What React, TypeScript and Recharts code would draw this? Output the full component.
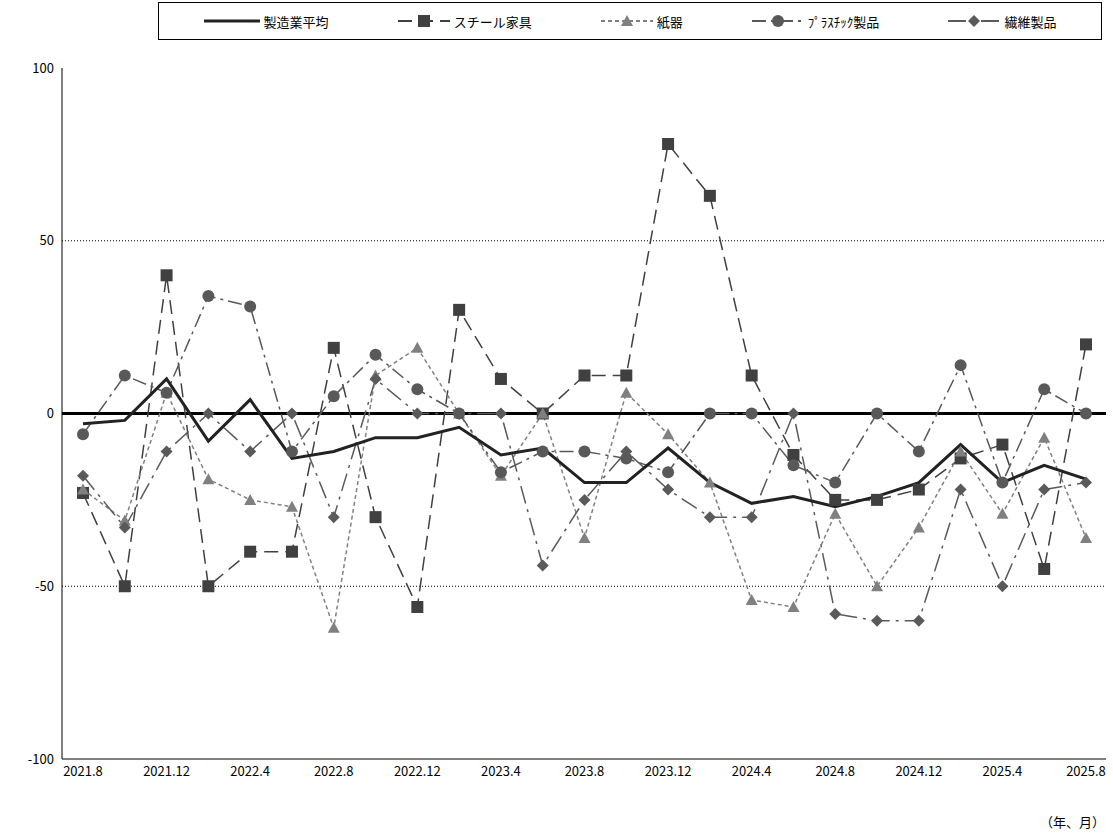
import React from 'react';
import { LineChart, Line, XAxis, YAxis, CartesianGrid, ReferenceLine } from 'recharts';

const months = ['2021.8','2021.10','2021.12','2022.2','2022.4','2022.6','2022.8','2022.10','2022.12','2023.2','2023.4','2023.6','2023.8','2023.10','2023.12','2024.2','2024.4','2024.6','2024.8','2024.10','2024.12','2025.2','2025.4','2025.6','2025.8'];
const average = [-3,-2,10,-8,4,-13,-11,-7,-7,-4,-12,-10,-20,-20,-10,-20,-26,-24,-27,-24,-20,-9,-20,-15,-19];
const steel = [-23,-50,40,-50,-40,-40,19,-30,-56,30,10,0,11,11,78,63,11,-12,-25,-25,-22,-13,-9,-45,20];
const paper = [-22,-31,6,-19,-25,-27,-62,11,19,0,-18,0,-36,6,-6,-20,-54,-56,-29,-50,-33,-11,-29,-7,-36];
const plastic = [-6,11,6,34,31,-11,5,17,7,0,-17,-11,-11,-13,-17,0,0,-15,-20,0,-11,14,-20,7,0];
const textile = [-18,-33,-11,0,-11,0,-30,10,0,0,0,-44,-25,-11,-22,-30,-30,0,-58,-60,-60,-22,-50,-22,-20];
const yTicks = [-100, -50, 0, 50, 100];

const data = months.map((m, i) => ({ m, average: average[i], steel: steel[i], paper: paper[i], plastic: plastic[i], textile: textile[i] }));

const Marker = ({ cx, cy, shape, color }: any) => {
  if (cx == null || cy == null) return null;
  if (shape === 'square') return <rect x={cx - 6} y={cy - 6} width={12} height={12} fill={color} />;
  if (shape === 'triangle') return <polygon points={`${cx},${cy - 6} ${cx + 6},${cy + 5} ${cx - 6},${cy + 5}`} fill={color} />;
  if (shape === 'circle') return <circle cx={cx} cy={cy} r={6} fill={color} />;
  return <polygon points={`${cx},${cy - 6} ${cx + 6},${cy} ${cx},${cy + 6} ${cx - 6},${cy}`} fill={color} />;
};

const series = [
  { key: 'steel', name: 'スチール家具', color: '#404040', dash: '14 7', shape: 'square' },
  { key: 'paper', name: '紙器', color: '#808080', dash: '4 3', shape: 'triangle' },
  { key: 'plastic', name: 'ﾌﾟﾗｽﾁｯｸ製品', color: '#595959', dash: '14 5 3 5', shape: 'circle' },
  { key: 'textile', name: '繊維製品', color: '#5a5a5a', dash: '18 6 3 6', shape: 'diamond' },
];

const LegendItem = ({ s }: any) => (
  <div style={{ display: 'flex', alignItems: 'center', gap: 4 }}>
    <svg width={52} height={14}>
      <line x1={0} y1={7} x2={52} y2={7} stroke={s.color} strokeWidth={2} strokeDasharray={s.dash} />
      <Marker cx={26} cy={7} shape={s.shape} color={s.color} />
    </svg>
    <span>{s.name}</span>
  </div>
);

export default function App() {
  return (
    <div style={{ position: 'absolute', left: 0, top: 0, width: 1113, height: 839, background: '#fff', fontFamily: '"Noto Sans CJK JP", sans-serif', fontSize: 13 }}>
      <div style={{ position: 'absolute', left: 158, top: 2, width: 944, height: 38, border: '1px solid #000', display: 'flex', alignItems: 'center', justifyContent: 'space-around', padding: '0 10px', boxSizing: 'border-box' }}>
        <div style={{ display: 'flex', alignItems: 'center', gap: 4 }}>
          <svg width={56} height={14}><line x1={0} y1={7} x2={56} y2={7} stroke="#222" strokeWidth={3} /></svg>
          <span>製造業平均</span>
        </div>
        {series.map(s => <LegendItem key={s.key} s={s} />)}
      </div>
      <LineChart width={1113} height={800} data={data} margin={{ top: 68, right: 7, left: 0, bottom: 11 }}>
        <CartesianGrid horizontal vertical={false} stroke="#000" strokeDasharray="1 2" horizontalValues={[50, -50]} />
        <XAxis dataKey="m" interval={1} padding={{ left: 21, right: 20 }} tickLine={false} axisLine={{ stroke: '#000' }} height={30} tick={{ fontSize: 13, fill: '#000' }} />
        <YAxis domain={[-100, 100]} ticks={yTicks} width={62} tickLine={false} axisLine={{ stroke: '#000' }} tick={{ fontSize: 13, fill: '#000' }} />
        <ReferenceLine y={0} stroke="#000" strokeWidth={3} />
        {series.map(s => (
          <Line key={s.key} dataKey={s.key} name={s.name} stroke={s.color} strokeWidth={1.5} strokeDasharray={s.dash} isAnimationActive={false}
            dot={(p: any) => <Marker key={p.index} cx={p.cx} cy={p.cy} shape={s.shape} color={s.color} />} activeDot={false} />
        ))}
        <Line dataKey="average" name="製造業平均" stroke="#222" strokeWidth={3} dot={false} isAnimationActive={false} />
      </LineChart>
      <div style={{ position: 'absolute', left: 1040, top: 812, fontSize: 13 }}>（年、月）</div>
    </div>
  );
}
